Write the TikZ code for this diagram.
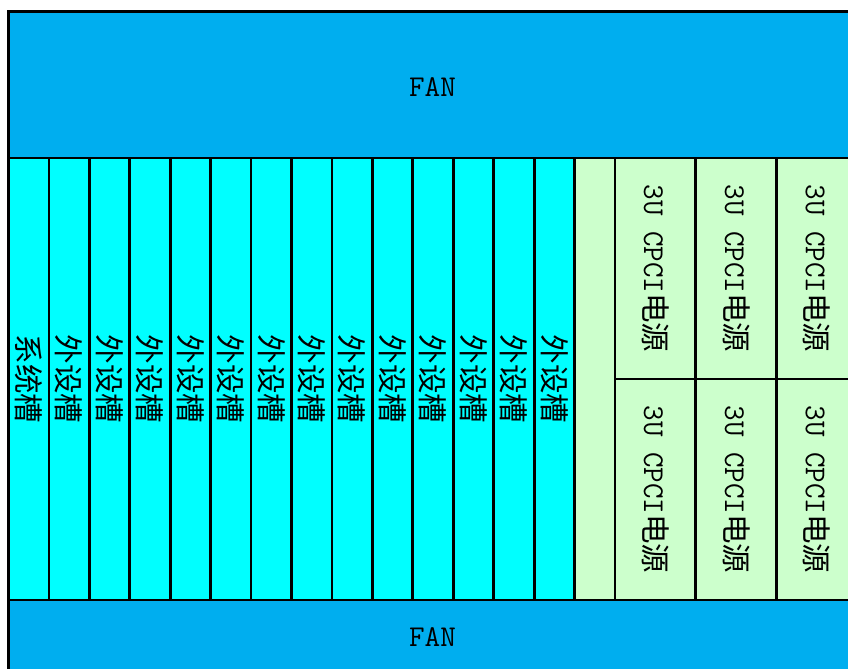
\documentclass[tikz,border=0pt]{standalone}
\usepackage{fontspec}
\newfontfamily\cjk{Noto Sans CJK SC}
\usepackage{tikz}
\usetikzlibrary{calc}
\usepackage{xcolor}
\definecolor{fanblue}{RGB}{0,174,239}
\definecolor{slotcyan}{RGB}{0,255,255}
\definecolor{pwrgreen}{RGB}{204,255,204}
\newcommand{\slotw}{40.43}
\newcommand{\slotfont}{\cjk\fontsize{21}{21}\selectfont}
\newcommand{\latfont}{\ttfamily\fontsize{21.5}{21.5}\selectfont}
\newcommand{\prslot}[3]{\draw[fill=slotcyan] ($(#1)+(\slotw*#2-\slotw,0)$) rectangle ($(#1)+(\slotw*#2,442)$);
	\draw ($(#1)+(\slotw*#2-0.5*\slotw,221)$) node[rotate=-90,font=\slotfont] (slot#2) {#3};}
\newcommand{\prpwr}[3]{\draw[fill=pwrgreen] ($(#1)+(\slotw*13+2*\slotw*#2,221*#3-221)$) rectangle ($(#1)+(\slotw*15+2*\slotw*#2,221*#3)$);
	\draw ($(#1)+(\slotw*14+2*\slotw*#2,221*#3-110.5)$) node[rotate=-90] (pwr#2#3) {{\latfont 3U CPCI}{\slotfont 电源}};}

\begin{document}
\begin{tikzpicture}[x=0.025cm,y=-0.025cm,line width=2pt]
	\useasboundingbox (0,0) rectangle (848,669);
	\clip (0,0) rectangle (848,669);
	\coordinate (O) at (8.5,158);
	
	% fans
	\draw[fill=fanblue] ($(O)+(0,-146.5)$) rectangle ($(O)+(849,0)$);
	\draw[fill=fanblue] ($(O)+(0,442)$) rectangle ($(O)+(849,520)$);
	\draw ($(O)+(424,-71)$) node[font=\latfont] (fantop) {FAN};
	\draw ($(O)+(424,479)$) node[font=\latfont] (fanbot) {FAN};
	
	% slots
	\prslot{O}{1}{系统槽}
	\prslot{O}{2}{外设槽}
	\prslot{O}{3}{外设槽}
	\prslot{O}{4}{外设槽}
	\prslot{O}{5}{外设槽}
	\prslot{O}{6}{外设槽}
	\prslot{O}{7}{外设槽}
	\prslot{O}{8}{外设槽}
	\prslot{O}{9}{外设槽}
	\prslot{O}{10}{外设槽}
	\prslot{O}{11}{外设槽}
	\prslot{O}{12}{外设槽}
	\prslot{O}{13}{外设槽}
	\prslot{O}{14}{外设槽}
	
	% power
	\draw[fill=pwrgreen] ($(O)+(\slotw*14,0)$) rectangle ($(O)+(849,442)$);
	\prpwr{O}{1}{1}
	\prpwr{O}{2}{1}
	\prpwr{O}{3}{1}
	\prpwr{O}{1}{2}
	\prpwr{O}{2}{2}
	\prpwr{O}{3}{2}
\end{tikzpicture}
\end{document}
